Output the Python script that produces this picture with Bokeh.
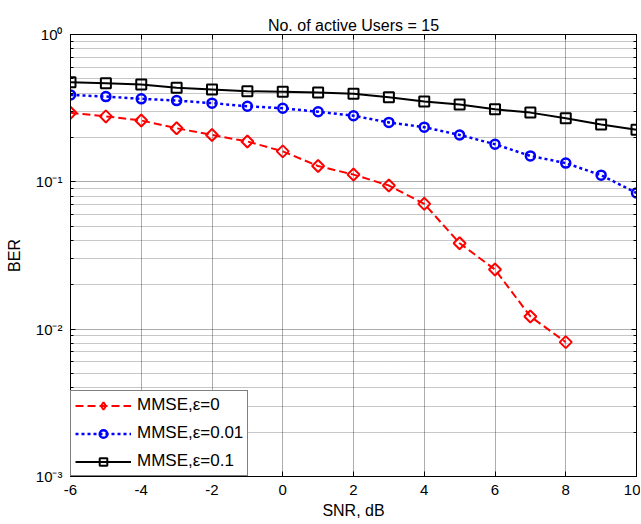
import math
from bokeh.plotting import figure
from bokeh.models import (Range1d, FixedTicker, CustomJSTickFormatter, LinearAxis, LogAxis,
                          Legend, LegendItem)
from bokeh.embed import file_html
from bokeh.resources import INLINE

snr = [-6, -5, -4, -3, -2, -1, 0, 1, 2, 3, 4, 5, 6, 7, 8, 9, 10]
ber_eps0 = [0.294, 0.278, 0.261, 0.231, 0.208, 0.188, 0.161, 0.128, 0.112, 0.0944, 0.0709,
            0.0383, 0.0254, 0.0122, 0.00817]
ber_eps001 = [0.389, 0.379, 0.366, 0.356, 0.342, 0.326, 0.316, 0.299, 0.281, 0.253, 0.235,
              0.208, 0.180, 0.150, 0.134, 0.111, 0.084]
ber_eps01 = [0.474, 0.467, 0.458, 0.435, 0.423, 0.412, 0.408, 0.404, 0.396, 0.375, 0.351,
             0.335, 0.311, 0.295, 0.270, 0.245, 0.226]
x_ticks = [-6, -4, -2, 0, 2, 4, 6, 8, 10]
y_ticks = [1e-3, 1e-2, 1e-1, 1e0]
labels = ["MMSE,\u03b5=0", "MMSE,\u03b5=0.01", "MMSE,\u03b5=0.1"]
title_text = "No. of active Users = 15"

FONT = "Liberation Sans"

y_minor = [m * t for t in y_ticks[:-1] for m in range(2, 10)]
snr0 = snr[:len(ber_eps0)]

p = figure(width=640, height=524, output_backend="svg", toolbar_location=None,
           y_axis_type="log", x_range=Range1d(-6, 10), y_range=Range1d(1e-3, 1),
           min_border_left=70, min_border_right=4, min_border_top=34, min_border_bottom=48,
           title=title_text)
p.title.align = "center"
p.title.text_font = FONT
p.title.text_font_size = "16px"
p.title.text_font_style = "normal"
p.title.text_color = "black"
p.title.standoff = 2

p.outline_line_color = "black"
p.outline_line_width = 1
p.background_fill_color = "white"
p.border_fill_color = "white"

sup = CustomJSTickFormatter(code="""
const e = Math.round(Math.log10(tick));
const m = {'0':'\u2070','1':'\u00b9','2':'\u00b2','3':'\u00b3','-':'\u207b'};
return '10' + String(e).split('').map(c => m[c]).join('');
""")
plain = CustomJSTickFormatter(code="return String(tick);")

xt = FixedTicker(ticks=x_ticks)
yt = FixedTicker(ticks=y_ticks, minor_ticks=y_minor)

for ax in (p.xaxis[0], p.yaxis[0]):
    ax.major_label_text_font = FONT
    ax.major_label_text_font_size = "15px"
    ax.major_label_text_color = "black"
    ax.axis_label_text_font = FONT
    ax.axis_label_text_font_size = "16px"
    ax.axis_label_text_font_style = "normal"
    ax.axis_label_text_color = "black"
    ax.major_tick_in = 5
    ax.major_tick_out = 0
    ax.minor_tick_in = 3
    ax.minor_tick_out = 0
    ax.axis_line_color = "black"
    ax.major_tick_line_color = "black"
    ax.minor_tick_line_color = "black"

p.xaxis[0].ticker = xt
p.xaxis[0].formatter = plain
p.xaxis[0].axis_label = "SNR, dB"
p.xaxis[0].major_label_standoff = 8
p.xaxis[0].axis_label_standoff = 4
p.yaxis[0].ticker = yt
p.yaxis[0].formatter = sup
p.yaxis[0].axis_label = "BER"
p.yaxis[0].major_label_standoff = 8
p.yaxis[0].axis_label_standoff = 10

top = LinearAxis(ticker=xt, formatter=plain, major_label_text_font_size="1px",
                 major_label_text_alpha=0, major_label_standoff=0,
                 major_tick_in=5, major_tick_out=0, major_tick_line_color="black",
                 minor_tick_line_color=None, axis_line_color="black")
right = LogAxis(ticker=yt, formatter=sup, major_label_text_font_size="1px",
                major_label_text_alpha=0, major_label_standoff=0,
                major_tick_in=5, major_tick_out=0, major_tick_line_color="black",
                minor_tick_in=3, minor_tick_out=0, minor_tick_line_color="black",
                axis_line_color="black")
p.add_layout(top, "above")
p.add_layout(right, "right")

p.xgrid.ticker = xt
p.ygrid.ticker = yt
for g in (p.xgrid[0], p.ygrid[0]):
    g.grid_line_color = "#222222"
    g.grid_line_dash = "1 1"
    g.grid_line_width = 1
    g.grid_line_alpha = 0.75
p.ygrid[0].minor_grid_line_color = "#333333"
p.ygrid[0].minor_grid_line_dash = "1 1"
p.ygrid[0].minor_grid_line_alpha = 0.55

r1 = p.line(snr0, ber_eps0, line_color="red", line_width=2, line_dash="8 4")
s1 = p.scatter(snr0, ber_eps0, marker="square", angle=math.pi / 4, size=8.5,
               line_color="red", line_width=2, fill_color=None)
# hidden diamond renderer used only for the legend swatch
d1 = p.scatter(snr0, ber_eps0, marker="diamond", size=15, line_color="red", line_width=2,
               fill_color=None, visible=False)
r2 = p.line(snr, ber_eps001, line_color="blue", line_width=2.5, line_dash="3 3")
s2 = p.scatter(snr, ber_eps001, marker="circle", size=9, line_color="blue",
               line_width=2.5, fill_color=None)
r3 = p.line(snr, ber_eps01, line_color="black", line_width=2)
s3 = p.scatter(snr, ber_eps01, marker="square", size=10, line_color="black",
               line_width=2, fill_color=None)

legend = Legend(items=[LegendItem(label=labels[0], renderers=[r1, d1]),
                       LegendItem(label=labels[1], renderers=[r2, s2]),
                       LegendItem(label=labels[2], renderers=[r3, s3])],
                location="bottom_left", margin=0, padding=4, spacing=8,
                glyph_width=56, glyph_height=19, label_height=19,
                label_text_font=FONT, label_text_font_size="17px", label_text_color="black",
                border_line_color="black", border_line_width=1,
                background_fill_alpha=1.0, label_standoff=6, click_policy="none")
p.add_layout(legend, "center")

open("out.html", "w").write(file_html(p, INLINE))
